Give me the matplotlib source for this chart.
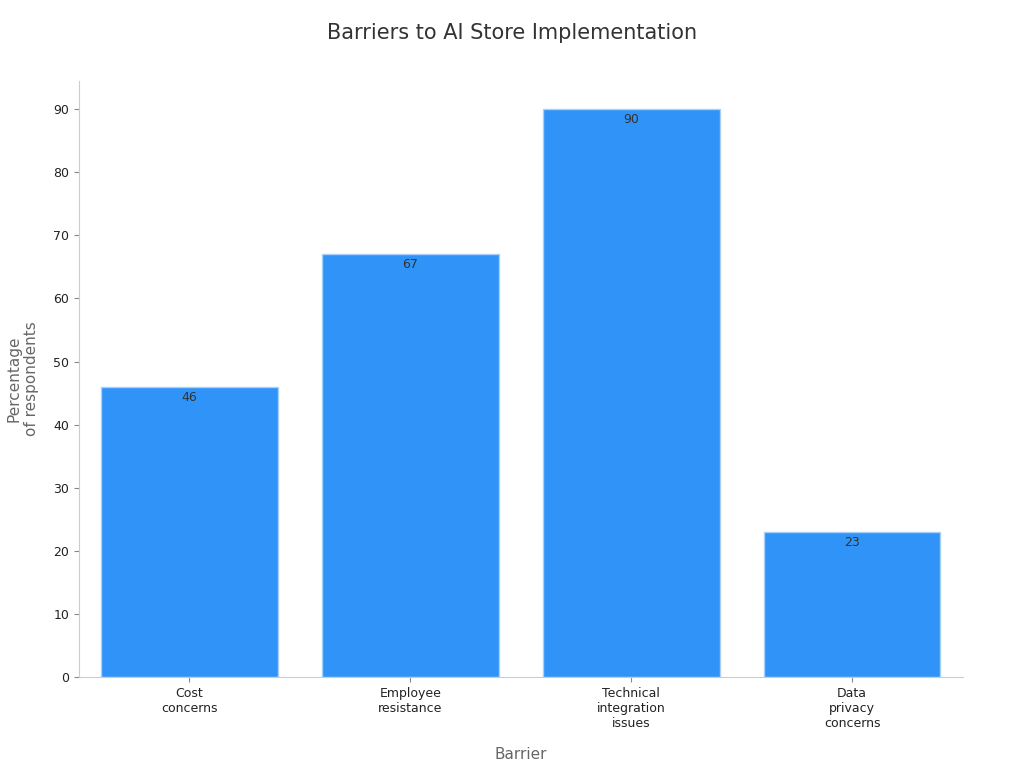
import matplotlib.pyplot as plt

categories = ["Cost\nconcerns", "Employee\nresistance", "Technical\nintegration\nissues", "Data\nprivacy\nconcerns"]
values = [46, 67, 90, 23]

fig, ax = plt.subplots(figsize=(10.24, 7.68), dpi=100)
fig.subplots_adjust(left=0.077, right=0.94, top=0.895, bottom=0.118)

bars = ax.bar(range(len(values)), values, width=0.8, color="#2f93f8", edgecolor="#a8d0f8", linewidth=1)
for i, v in enumerate(values):
    ax.text(i, v - 0.6, str(v), ha="center", va="top", fontsize=9, color="#333333")

ax.set_xticks(range(len(values)))
ax.set_xticklabels(categories, fontsize=9, color="#222222")
ax.set_yticks(range(0, 100, 10))
ax.tick_params(axis="y", labelsize=9, colors="#222222")
ax.tick_params(color="#888888")
ax.set_ylim(0, 94.5)
ax.set_xlim(-0.5, 3.5)
for s in ["top", "right"]:
    ax.spines[s].set_visible(False)
for s in ["left", "bottom"]:
    ax.spines[s].set_color("#cccccc")

ax.set_xlabel("Barrier", fontsize=11, color="#666666", labelpad=12)
ax.set_ylabel("Percentage\nof respondents", fontsize=11, color="#666666", labelpad=10)
fig.suptitle("Barriers to AI Store Implementation", fontsize=15, color="#333333", y=0.97)

fig.savefig("out.png")
